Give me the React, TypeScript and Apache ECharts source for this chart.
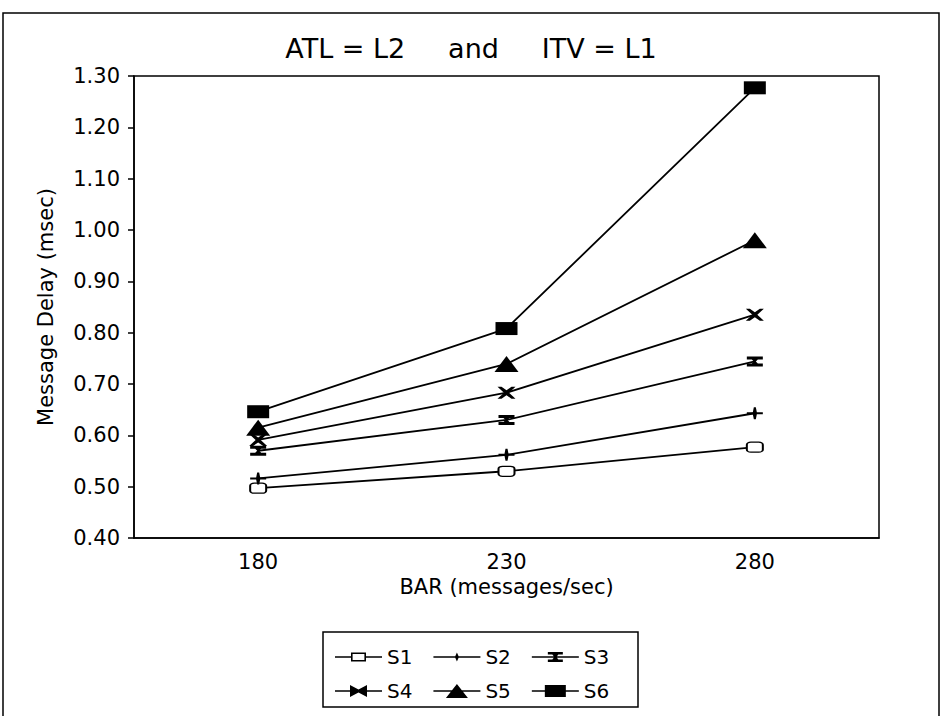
import React, { useEffect, useRef } from "react";
import * as echarts from "echarts";

const categories = ["180", "230", "280"];
const seriesNames = ["S1", "S2", "S3", "S4", "S5", "S6"];
const s1 = [0.497, 0.530, 0.577];
const s2 = [0.516, 0.562, 0.643];
const s3 = [0.570, 0.630, 0.744];
const s4 = [0.591, 0.683, 0.835];
const s5 = [0.615, 0.739, 0.980];
const s6 = [0.646, 0.808, 1.277];
const seriesValues = [s1, s2, s3, s4, s5, s6];

const FONT = "DejaVu Sans";

const symbols: any[] = [
  { symbol: "roundRect", size: [16, 10], fill: "#fff" },
  { symbol: "path://M0,5 L6,5 L7,0 L9,0 L10,5 L16,5 L16,7 L10,7 L9,12 L7,12 L6,7 L0,7 Z", size: [16, 12], fill: "#000" },
  { symbol: "path://M0,0 L16,0 L16,3 L11,3 L9,5 L11,7 L16,7 L16,10 L0,10 L0,7 L5,7 L7,5 L5,3 L0,3 Z", size: [16, 10], fill: "#000" },
  { symbol: "path://M0,0 L4,0 L9,3.5 L14,0 L18,0 L11.5,6 L18,12 L14,12 L9,8.5 L4,12 L0,12 L6.5,6 Z", size: [18, 12], fill: "#000" },
  { symbol: "triangle", size: [24, 16], fill: "#000" },
  { symbol: "rect", size: [22, 13], fill: "#000" },
];

// legend icons drawn in a 47 x 16 box: a line with the marker in its middle
const LINE = "M0,7.2 L47,7.2 L47,8.8 L0,8.8 Z ";
const legendIcons = [
  "path://M0,7.2 L16,7.2 L16,3.5 L31,3.5 L31,7.2 L47,7.2 L47,8.8 L31,8.8 L31,12.5 L16,12.5 L16,8.8 L0,8.8 Z M17.6,5.1 L17.6,10.9 L29.4,10.9 L29.4,5.1 Z",
  "path://" + LINE + "M21.5,8 L23.5,3.5 L25.5,8 L23.5,12.5 Z",
  "path://" + LINE + "M16,3 L31,3 L31,5.5 L26.5,5.5 L24.5,8 L26.5,10.5 L31,10.5 L31,13 L16,13 L16,10.5 L20.5,10.5 L22.5,8 L20.5,5.5 L16,5.5 Z",
  "path://" + LINE + "M15,2 L23.5,6.5 L32,2 L32,14 L23.5,9.5 L15,14 Z",
  "path://" + LINE + "M12.5,15 L23.5,1 L34.5,15 Z",
  "path://" + LINE + "M13,2 L34,2 L34,14 L13,14 Z",
];

export default function App() {
  const ref = useRef<HTMLDivElement>(null);
  useEffect(() => {
    if (!ref.current) return;
    const chart = echarts.init(ref.current, undefined, { renderer: "svg" });
    const series = seriesNames.map((name, i) => ({
      name,
      type: "line",
      data: seriesValues[i],
      symbol: symbols[i].symbol,
      symbolSize: symbols[i].size,
      showAllSymbol: true,
      lineStyle: { color: "#000", width: 1.8 },
      itemStyle: { color: symbols[i].fill, borderColor: "#000", borderWidth: i === 0 ? 1.6 : 0 },
      emphasis: { disabled: true },
      z: 2 + i,
    }));
    const legendItem = (i: number) => ({
      name: seriesNames[i],
      icon: legendIcons[i],
      itemStyle: { color: "#000", borderWidth: 0 },
    });
    const legendCommon = {
      orient: "horizontal",
      left: 335,
      padding: 0,
      itemWidth: 47,
      itemHeight: 16,
      itemGap: 21,
      symbolKeepAspect: true,
      selectedMode: false,
      textStyle: { fontFamily: FONT, fontSize: 20, color: "#000" },
    };
    chart.setOption({
      animation: false,
      backgroundColor: "#fff",
      title: {
        text: "ATL = L2     and     ITV = L1",
        left: "center",
        top: 30,
        textStyle: { fontFamily: FONT, fontSize: 27, fontWeight: "normal", color: "#000" },
      },
      grid: { left: 134, right: 63, top: 76, bottom: 178, show: true, borderColor: "#000", borderWidth: 1.5 },
      legend: [
        { ...legendCommon, top: 647, data: [0, 1, 2].map(legendItem) },
        { ...legendCommon, top: 681, data: [3, 4, 5].map(legendItem) },
      ],
      xAxis: {
        type: "category",
        data: categories,
        boundaryGap: true,
        axisLine: { lineStyle: { color: "#000", width: 1.5 } },
        axisTick: { show: false },
        axisLabel: { fontFamily: FONT, fontSize: 21, color: "#000", margin: 13 },
        name: "BAR (messages/sec)",
        nameLocation: "middle",
        nameGap: 38,
        nameTextStyle: { fontFamily: FONT, fontSize: 21, color: "#000" },
        splitLine: { show: false },
      },
      yAxis: {
        type: "value",
        min: 0.4,
        max: 1.3,
        interval: 0.1,
        axisLine: { show: true, lineStyle: { color: "#000", width: 1.5 } },
        axisTick: { show: true, length: 6, lineStyle: { color: "#000", width: 1.5 } },
        axisLabel: {
          fontFamily: FONT,
          fontSize: 21,
          color: "#000",
          margin: 14,
          formatter: (v: number) => v.toFixed(2),
        },
        name: "Message Delay (msec)",
        nameLocation: "middle",
        nameGap: 78,
        nameTextStyle: { fontFamily: FONT, fontSize: 21, color: "#000" },
        splitLine: { show: false },
      },
      graphic: [
        {
          type: "rect",
          shape: { x: 3, y: 13, width: 936, height: 740 },
          style: { fill: "none", stroke: "#000", lineWidth: 1.5 },
          silent: true,
        },
        {
          type: "rect",
          shape: { x: 323, y: 632, width: 315, height: 75 },
          style: { fill: "none", stroke: "#000", lineWidth: 1.5 },
          silent: true,
        },
      ],
      series,
    });
    return () => chart.dispose();
  }, []);
  return (
    <div
      ref={ref}
      style={{ position: "fixed", left: 0, top: 0, width: 942, height: 716, background: "#fff" }}
    />
  );
}
